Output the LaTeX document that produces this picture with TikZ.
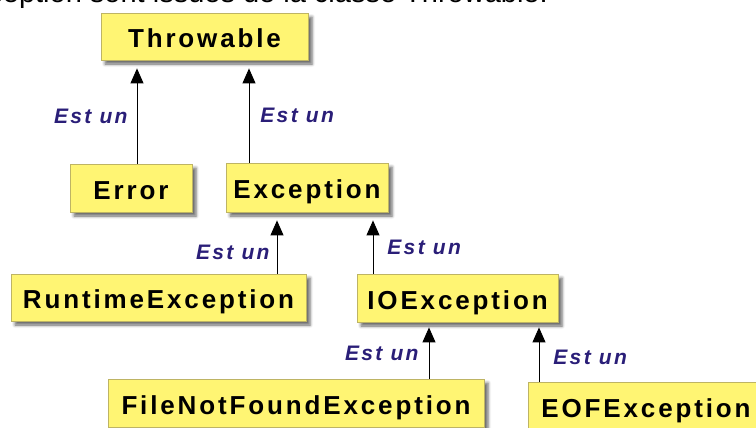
\documentclass[tikz,border=0pt]{standalone}
\usepackage{fontspec}
\setmainfont{Liberation Sans}
\newfontfamily\clsfont[LetterSpace=11]{Liberation Sans}
\usepackage{tikz}
\usetikzlibrary{arrows.meta, calc, shadows.blur}
\definecolor{boxfill}{HTML}{FFF573}
\definecolor{boxline}{HTML}{BEB464}
\definecolor{isacol}{HTML}{2A1E78}

\begin{document}
\begin{tikzpicture}[x=1pt,y=-1pt,
    cls/.style={draw=boxline, fill=boxfill, line width=0.8pt, inner sep=0pt,
      text height=22pt, text depth=0pt,
      font=\clsfont\bfseries\fontsize{26}{30}\selectfont,
      blur shadow={shadow xshift=4pt, shadow yshift=-4pt,
        shadow blur radius=3pt, shadow opacity=60}},
    isa/.style={draw=black, line width=0.9pt, -{Triangle[length=15pt,width=13pt]}},
    estun/.style={text=isacol, inner sep=0pt,
      font=\clsfont\bfseries\itshape\fontsize{21}{24}\selectfont}]
  \useasboundingbox (0,0) rectangle (756,428);

  % texte du transparent, coupe en haut
  \node[anchor=base east, inner sep=0pt, font=\fontsize{29}{34}\selectfont]
    (intro) at (548,2.5) {Les classes d'exception sont issues de la classe Throwable.};

  % classes
  \node[cls, minimum width=207pt, minimum height=47pt] (thr) at (204.5,36.5) {Throwable};
  \node[cls, minimum width=122pt, minimum height=48pt] (err) at (131,188) {Error};
  \node[cls, minimum width=162pt, minimum height=49pt] (exc) at (307,187.5) {Exception};
  \node[cls, minimum width=295pt, minimum height=47pt] (rte) at (158.5,297.5) {RuntimeException};
  \node[cls, minimum width=201pt, minimum height=48pt] (ioe) at (457.5,298) {IOException};
  \node[cls, minimum width=376pt, minimum height=48pt] (fnf) at (296,403) {FileNotFoundException};
  \node[cls, minimum width=236pt, minimum height=48pt] (eof) at (646,406) {EOFException};

  % liens "est un"
  \draw[isa] ($(err.north)+(6,0)$) -- ($(err.north |- thr.south)+(6,8)$)
    node[midway, left=9pt, estun] {Est un};
  \draw[isa] ($(exc.north)+(-58,0)$) -- ($(exc.north |- thr.south)+(-58,8)$)
    node[midway, right=11pt, estun] {Est un};
  \draw[isa] ($(rte.north)+(118.5,0)$) -- ($(rte.north |- exc.south)+(118.5,8)$)
    node[pos=0.4, left=7pt, estun] {Est un};
  \draw[isa] ($(ioe.north)+(-84.5,0)$) -- ($(ioe.north |- exc.south)+(-84.5,8)$)
    node[midway, right=14pt, estun] {Est un};
  \draw[isa] ($(fnf.north)+(133,0)$) -- ($(fnf.north |- ioe.south)+(133,5)$)
    node[midway, left=10pt, estun] {Est un};
  \draw[isa] ($(eof.north)+(-107,0)$) -- ($(eof.north |- ioe.south)+(-107,5)$)
    node[pos=0.44, right=14pt, estun] {Est un};
\end{tikzpicture}
\end{document}
